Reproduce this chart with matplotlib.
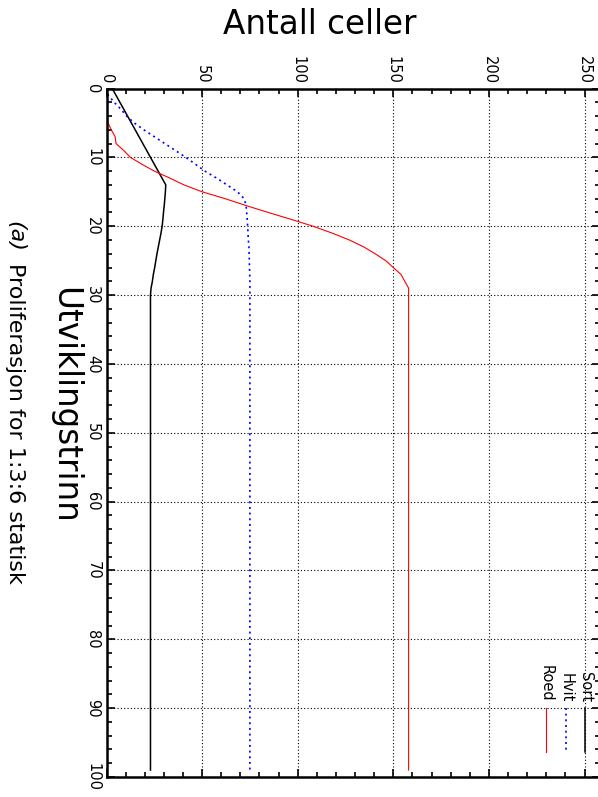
import matplotlib
matplotlib.use("Agg")
from matplotlib import pyplot as plt
from matplotlib.ticker import MultipleLocator

steps = list(range(0, 31)) + [99]

sort_vals = [3, 5, 7, 9, 11, 13, 15, 17, 19, 21, 23, 25, 27, 29, 31,
             30.8, 30.5, 30.2, 29.8, 29.5, 29.1, 28.5, 27.8, 27.1, 26.4,
             25.8, 25.2, 24.5, 24.0, 23.3, 23.0, 23.0]

hvit_vals = [0, 1, 4, 7.5, 10.5, 14.5, 19.5, 25, 30.5, 36, 41.5, 46.5,
             51.5, 57.5, 63, 68.5, 72, 73, 73.3, 73.6, 73.8, 74, 74.2,
             74.5, 74.6, 74.7, 74.8, 74.9, 75, 75, 75, 75]

roed_vals = [0, 0, 0, 0.3, 0.5, 0.8, 2.5, 4.5, 5, 9, 12.5, 18.5, 25, 33,
             40.5, 50, 62, 73, 84.5, 96.5, 108, 118, 127, 134.5, 140.5,
             146, 150, 154, 156, 158, 158, 158]

legend_names = ["Sort", "Hvit", "Roed"]

W, H = 598, 797
fig = plt.figure(figsize=(W / 100, H / 100), dpi=100)

# axes box in pixels (left, top, right, bottom)
l, t, r, b = 106.5, 88.5, 599.5, 777.0
ax = fig.add_axes([l / W, 1 - b / H, (r - l) / W, (b - t) / H])

ax.plot(sort_vals, steps, color="black", lw=1.1)
ax.plot(hvit_vals, steps, color="#0000ff", lw=1.2, ls=(0, (1.2, 2.2)))
ax.plot(roed_vals, steps, color="#ff0000", lw=0.8)

ax.set_xlim(0, 250 * (r - l) / 478.0)
ax.set_ylim(100, 0)

ax.xaxis.set_major_locator(MultipleLocator(50))
ax.xaxis.set_minor_locator(MultipleLocator(10))
ax.yaxis.set_major_locator(MultipleLocator(10))
ax.yaxis.set_minor_locator(MultipleLocator(2))
ax.set_xticks([0, 50, 100, 150, 200, 250])

ax.xaxis.tick_top()
ax.tick_params(which="both", direction="in", top=True, bottom=True,
               left=True, right=True, labeltop=True, labelbottom=False,
               width=1.2, labelsize=10.5)
ax.tick_params(which="major", length=6)
ax.tick_params(which="minor", length=3.5)
ax.tick_params(axis="x", pad=3.5)
ax.tick_params(axis="y", pad=4.5)

for lab in ax.get_xticklabels():
    lab.set_rotation(-90)
    lab.set_ha("center")
    lab.set_va("bottom")
for lab in ax.get_yticklabels():
    lab.set_rotation(-90)
    lab.set_ha("right")
    lab.set_va("center")

ax.grid(True, which="major", color="black", lw=0.8, ls=(0, (1, 2)))
for sp in ax.spines.values():
    sp.set_linewidth(1.8)

# rotated legend in the lower right corner
leg_x = [0.9706, 0.9314, 0.8915]
leg_styles = [dict(color="black", lw=1.1),
              dict(color="#0000ff", lw=1.2, ls=(0, (1.2, 2.2))),
              dict(color="#ff0000", lw=0.8)]
for name, x, st in zip(legend_names, leg_x, leg_styles):
    ax.plot([x, x], [0.100, 0.037], transform=ax.transAxes, **st)
    ax.text(x, 0.109, name, transform=ax.transAxes, rotation=-90,
            ha="center", va="bottom", fontsize=10.5)

fig.text(320 / W, 1 - 25 / H, "Antall celler", fontsize=23.5,
         ha="center", va="center")
fig.text(65 / W, 1 - 405 / H, "Utviklingstrinn", fontsize=23.5,
         rotation=-90, ha="center", va="center")
# caption: italic "(a)" then the rest
fig.text(15 / W, 1 - 221 / H, "(a)", style="italic",
         fontsize=16, rotation=-90, ha="center", va="top")
fig.text(15 / W, 1 - 584 / H, "Proliferasjon for 1:3:6 statisk",
         fontsize=16, rotation=-90, ha="center", va="bottom")

fig.savefig("out.png", dpi=100)
